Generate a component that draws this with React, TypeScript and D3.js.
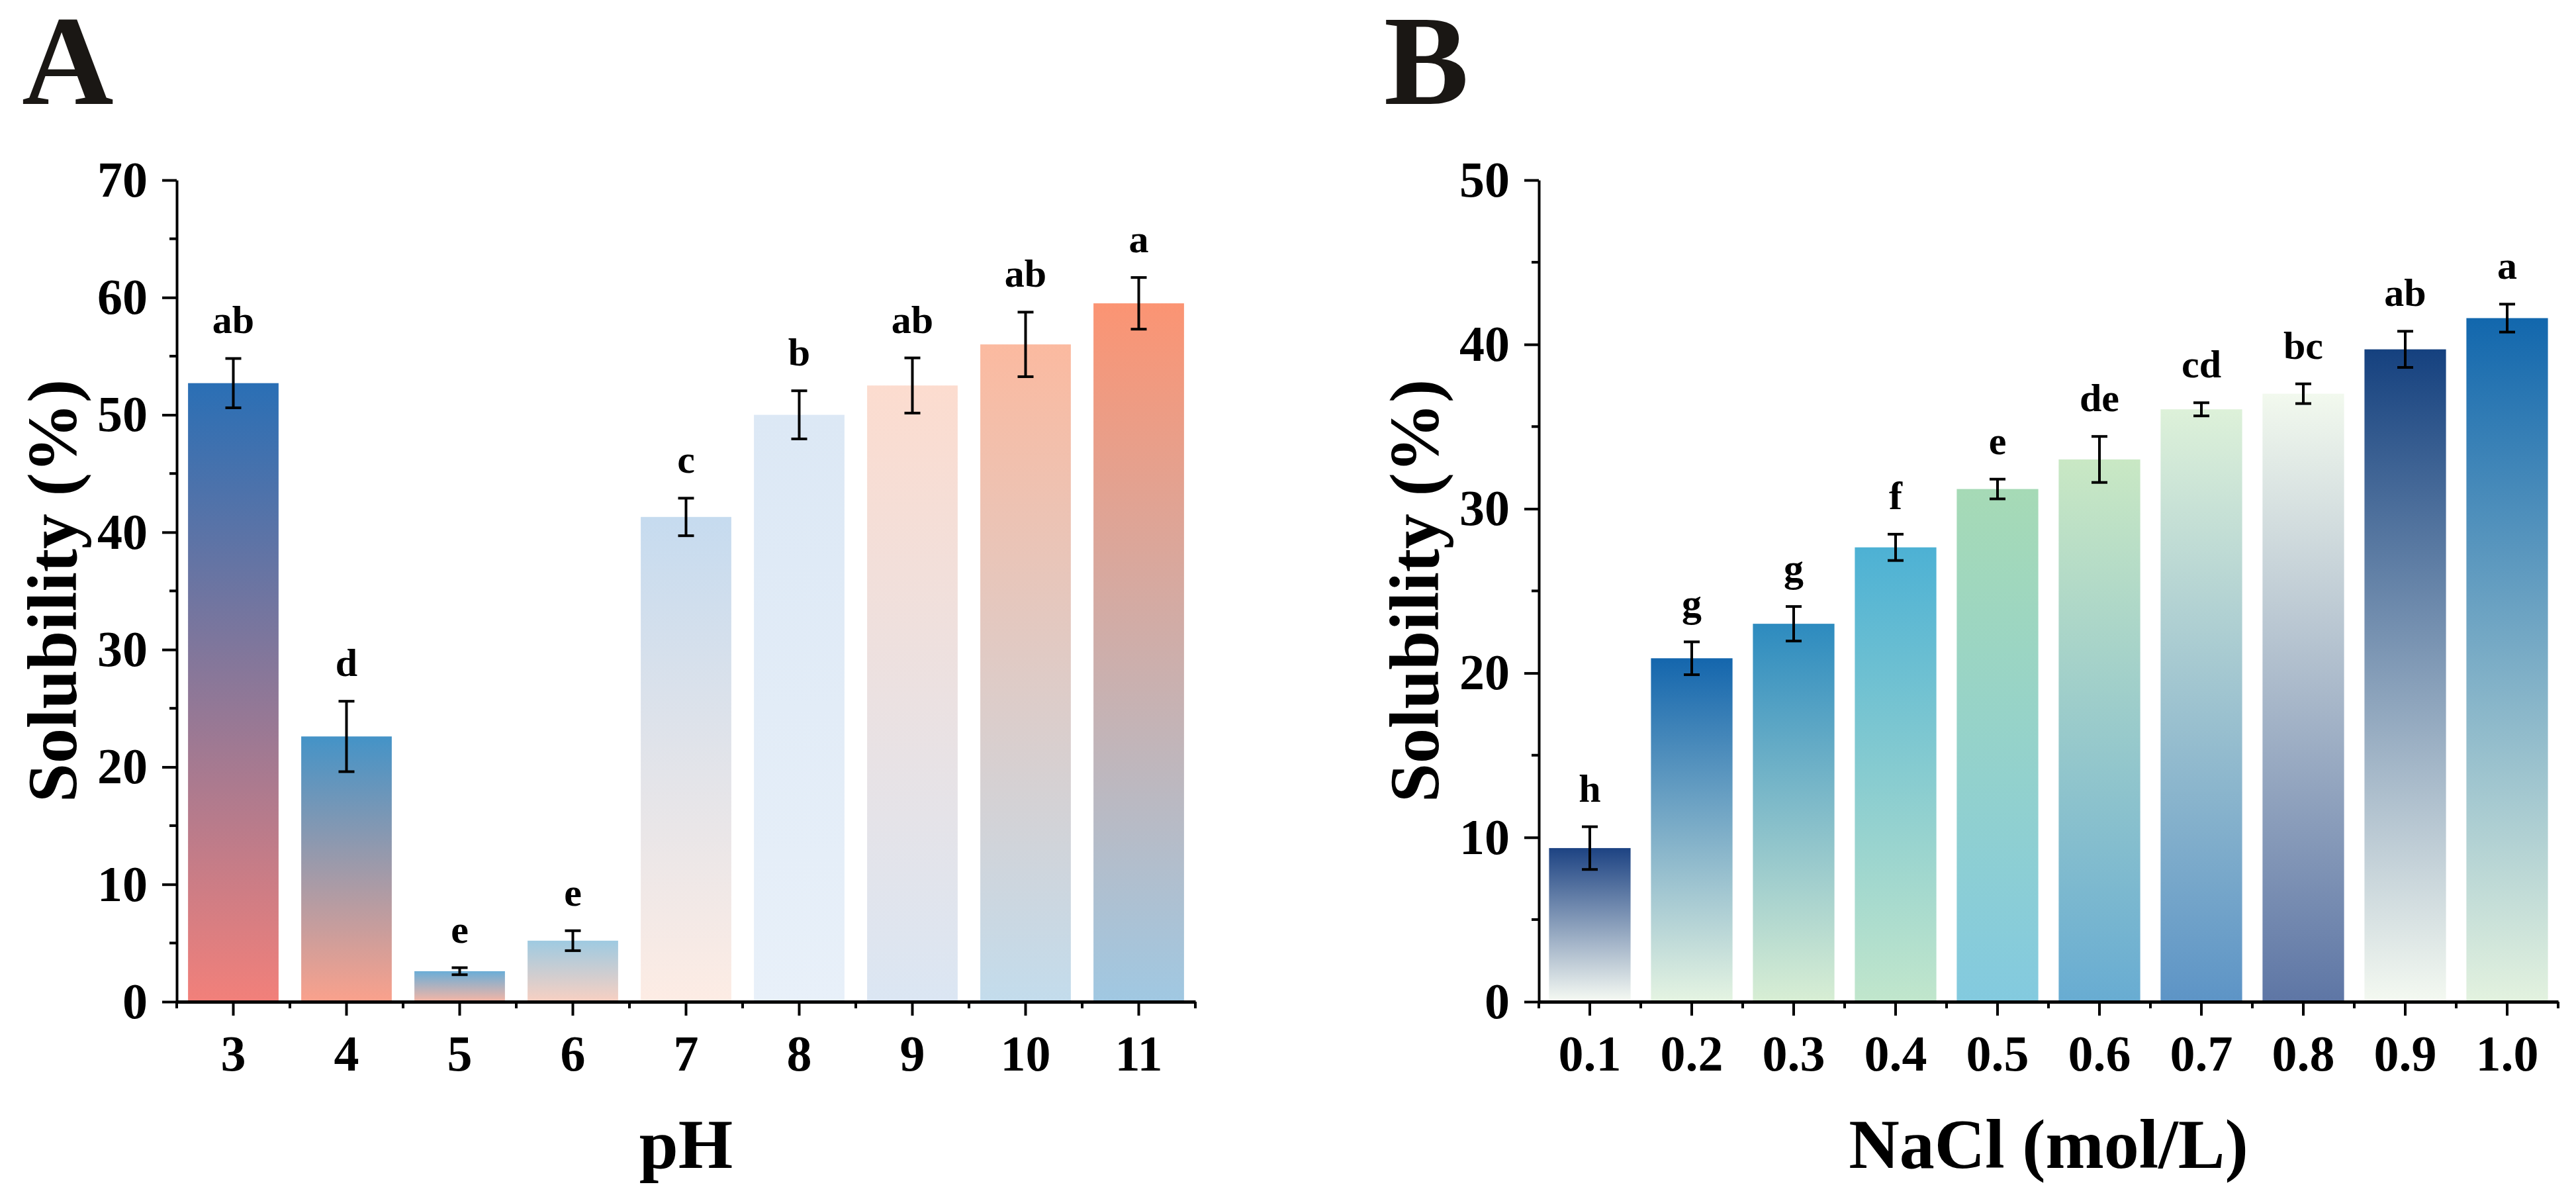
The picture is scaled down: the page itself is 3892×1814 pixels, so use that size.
import { useEffect, useRef } from 'react';
import * as d3 from 'd3';

const phCats = ['3', '4', '5', '6', '7', '8', '9', '10', '11'];
const phMeans = [52.7, 22.6, 2.6, 5.2, 41.3, 50.0, 52.5, 56.0, 59.5];
const phErrs = [2.1, 3.0, 0.3, 0.85, 1.6, 2.05, 2.35, 2.75, 2.2];
const phLetters = ['ab', 'd', 'e', 'e', 'c', 'b', 'ab', 'ab', 'a'];
const phTop = ['#2a6fb5', '#4493c7', '#6aadd7', '#9ecae1', '#c6dbef', '#dce8f5', '#fcdccf', '#fbbaa0', '#fb9473'];
const phBottom = ['#f2807a', '#faa18c', '#f6b6a5', '#f8d0c2', '#fdece4', '#e8f0f9', '#dbe6f3', '#c3dcec', '#a0c8e2'];

const naclCats = ['0.1', '0.2', '0.3', '0.4', '0.5', '0.6', '0.7', '0.8', '0.9', '1.0'];
const naclMeans = [9.35, 20.9, 23.0, 27.65, 31.2, 33.0, 36.05, 37.0, 39.7, 41.6];
const naclErrs = [1.3, 1.0, 1.05, 0.8, 0.6, 1.4, 0.4, 0.6, 1.1, 0.85];
const naclLetters = ['h', 'g', 'g', 'f', 'e', 'de', 'cd', 'bc', 'ab', 'a'];
const naclTop = ['#1d4383', '#1466ad', '#2d8bbf', '#4db1d4', '#a6dab6', '#c9e8c4', '#ddf1d9', '#f2f9ee', '#15417f', '#1267ad'];
const naclBottom = ['#f6faf3', '#e5f4e2', '#d8eed4', '#c1e6cc', '#83cadf', '#68acd2', '#5d94c6', '#5e76a5', '#f4f9f1', '#e3f2df'];

const FONT = '"Liberation Serif", "Times New Roman", serif';

type PanelProps = {
  id: string;
  letter: string;
  cats: string[];
  means: number[];
  errs: number[];
  letters: string[];
  tops: string[];
  bottoms: string[];
  yMax: number;
  xTitle: string;
  x0: number;
  x1: number;
};

function drawPanel(svg: d3.Selection<SVGSVGElement, unknown, null, undefined>, p: PanelProps) {
  const yBottom = 1513, yTop = 272;
  const x = d3.scaleBand<string>().domain(p.cats).range([p.x0, p.x1]).paddingInner(0.2).paddingOuter(0.1);
  const y = d3.scaleLinear().domain([0, p.yMax]).range([yBottom, yTop]);

  const defs = svg.append('defs');
  p.cats.forEach((c, i) => {
    const g = defs.append('linearGradient').attr('id', `${p.id}-g${i}`)
      .attr('x1', 0).attr('y1', 0).attr('x2', 0).attr('y2', 1);
    g.append('stop').attr('offset', 0).attr('stop-color', p.tops[i]);
    g.append('stop').attr('offset', 1).attr('stop-color', p.bottoms[i]);
  });

  const g = svg.append('g');

  // bars
  g.selectAll('rect.bar').data(p.cats).join('rect')
    .attr('class', 'bar')
    .attr('x', c => x(c)!)
    .attr('width', x.bandwidth())
    .attr('y', (_, i) => y(p.means[i]))
    .attr('height', (_, i) => yBottom - y(p.means[i]))
    .attr('fill', (_, i) => `url(#${p.id}-g${i})`);

  // error bars
  const cap = 12;
  const eb = g.selectAll('g.err').data(p.cats).join('g').attr('class', 'err')
    .attr('stroke', '#000').attr('stroke-width', 4);
  eb.append('line')
    .attr('x1', c => x(c)! + x.bandwidth() / 2).attr('x2', c => x(c)! + x.bandwidth() / 2)
    .attr('y1', (_, i) => y(p.means[i] + p.errs[i])).attr('y2', (_, i) => y(p.means[i] - p.errs[i]));
  eb.append('line')
    .attr('x1', c => x(c)! + x.bandwidth() / 2 - cap).attr('x2', c => x(c)! + x.bandwidth() / 2 + cap)
    .attr('y1', (_, i) => y(p.means[i] + p.errs[i])).attr('y2', (_, i) => y(p.means[i] + p.errs[i]));
  eb.append('line')
    .attr('x1', c => x(c)! + x.bandwidth() / 2 - cap).attr('x2', c => x(c)! + x.bandwidth() / 2 + cap)
    .attr('y1', (_, i) => y(p.means[i] - p.errs[i])).attr('y2', (_, i) => y(p.means[i] - p.errs[i]));

  // significance letters
  g.selectAll('text.sig').data(p.cats).join('text')
    .attr('class', 'sig')
    .attr('x', c => x(c)! + x.bandwidth() / 2)
    .attr('y', (_, i) => y(p.means[i] + p.errs[i]) - 38)
    .attr('text-anchor', 'middle')
    .attr('font-family', FONT).attr('font-weight', 'bold').attr('font-size', 60)
    .text((_, i) => p.letters[i]);

  // y axis
  const yAxis = g.append('g').attr('transform', `translate(${p.x0},0)`)
    .call(d3.axisLeft(y).tickValues(d3.range(0, p.yMax + 1, 10)).tickSize(22).tickPadding(22).tickSizeOuter(0).tickFormat(d3.format('d')));
  yAxis.attr('font-family', FONT).attr('font-size', 76).attr('font-weight', 'bold');
  yAxis.select('.domain').attr('stroke', '#000').attr('stroke-width', 4);
  yAxis.selectAll('.tick line').attr('stroke', '#000').attr('stroke-width', 4);
  yAxis.selectAll('.tick text').attr('fill', '#000');
  yAxis.selectAll('line.minor').data(d3.range(5, p.yMax, 10)).join('line')
    .attr('class', 'minor').attr('x1', -11).attr('x2', 0)
    .attr('y1', d => y(d)).attr('y2', d => y(d))
    .attr('stroke', '#000').attr('stroke-width', 4);

  // x axis
  const xAxis = g.append('g').attr('transform', `translate(0,${yBottom})`)
    .call(d3.axisBottom(x).tickSize(21).tickPadding(29).tickSizeOuter(0));
  xAxis.attr('font-family', FONT).attr('font-size', 76).attr('font-weight', 'bold');
  xAxis.select('.domain').attr('stroke', '#000').attr('stroke-width', 5);
  xAxis.selectAll('.tick line').attr('stroke', '#000').attr('stroke-width', 4);
  xAxis.selectAll('.tick text').attr('fill', '#000');
  const edges = [...p.cats.map(c => x(c)! - (x.step() - x.bandwidth()) / 2), p.x1];
  xAxis.selectAll('line.minor').data(edges).join('line')
    .attr('class', 'minor').attr('y1', 0).attr('y2', 10)
    .attr('x1', d => d).attr('x2', d => d)
    .attr('stroke', '#000').attr('stroke-width', 4);

  // titles
  g.append('text')
    .attr('x', (p.x0 + p.x1) / 2).attr('y', 1764)
    .attr('text-anchor', 'middle')
    .attr('font-family', FONT).attr('font-weight', 'bold').attr('font-size', 106)
    .text(p.xTitle);
  g.append('text')
    .attr('transform', `translate(${p.x0 - 152},${(yBottom + yTop) / 2}) rotate(-90)`)
    .attr('text-anchor', 'middle')
    .attr('font-family', FONT).attr('font-weight', 'bold').attr('font-size', 106)
    .text('Solubility (%)');
  g.append('text')
    .attr('x', p.x0 - 234).attr('y', 157)
    .attr('font-family', FONT).attr('font-weight', 'bold').attr('font-size', 192)
    .attr('fill', '#1a1714')
    .text(p.letter);
}

export default function App() {
  const svgRef = useRef<SVGSVGElement>(null);

  useEffect(() => {
    if (!svgRef.current) return;
    const svg = d3.select(svgRef.current);
    svg.selectAll('*').remove();

    drawPanel(svg, {
      id: 'ph', letter: 'A', cats: phCats, means: phMeans, errs: phErrs, letters: phLetters,
      tops: phTop, bottoms: phBottom, yMax: 70, xTitle: 'pH', x0: 267, x1: 1806,
    });
    drawPanel(svg, {
      id: 'nacl', letter: 'B', cats: naclCats, means: naclMeans, errs: naclErrs, letters: naclLetters,
      tops: naclTop, bottoms: naclBottom, yMax: 50, xTitle: 'NaCl (mol/L)', x0: 2325, x1: 3865,
    });
  }, []);

  return (
    <svg ref={svgRef} width={3892} height={1814}
      style={{ position: 'absolute', left: 0, top: 0, background: '#fff' }} />
  );
}
